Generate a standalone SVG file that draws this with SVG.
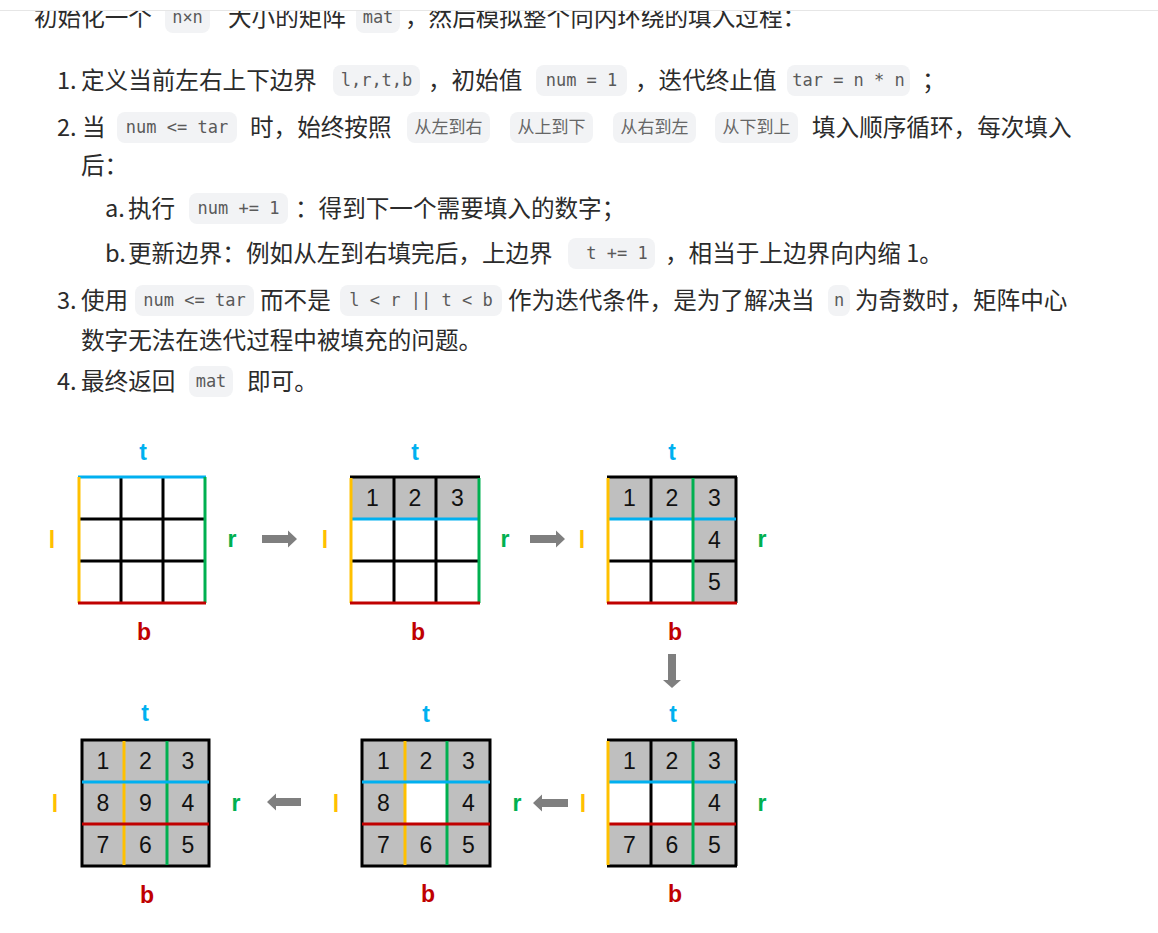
<svg xmlns="http://www.w3.org/2000/svg" width="1158" height="933" viewBox="0 0 1158 933">
<style>
.tx{font-family:"Noto Sans CJK SC","Noto Sans",sans-serif;font-size:23.6px;fill:#2b2b2b}
.cd{font-family:"DejaVu Sans Mono","Noto Sans CJK SC",monospace;font-size:17px;fill:#5a5a5a;text-anchor:middle}
.cdz{font-family:"Noto Sans CJK SC",sans-serif;font-size:17px;fill:#666;text-anchor:middle}
.chip{fill:#f2f3f5}
.gray{fill:#bfbfbf}
.wh{fill:#fff}
.bk{stroke:#000;stroke-width:3;fill:none}
.bl{stroke:#00b0f0;stroke-width:3}
.ye{stroke:#ffc000;stroke-width:3}
.gr{stroke:#00b050;stroke-width:3}
.rd{stroke:#c00000;stroke-width:3}
.num{font-family:"Liberation Sans",Arial,sans-serif;font-size:23px;fill:#111;text-anchor:middle}
.lb{font-family:"Liberation Sans",Arial,sans-serif;font-weight:bold;font-size:23px;text-anchor:middle}
.lt{fill:#00b0f0}.ll{fill:#ffc000}.lr{fill:#00b050}.lbb{fill:#c00000}
.arr{fill:#7f7f7f}
</style>
<rect x="0" y="0" width="1158" height="933" fill="#fff"/>

<g id="text">
  <rect class="chip" x="165" y="2" width="45" height="31" rx="8"/>
  <rect class="chip" x="356" y="2" width="44" height="31" rx="8"/>
  <text class="tx" x="34" y="26">初始化一个</text>
  <text class="cd" x="187.5" y="23">n×n</text>
  <text class="tx" x="228" y="26">大小的矩阵</text>
  <text class="cd" x="378" y="23">mat</text>
  <text class="tx" x="405" y="26">，然后模拟整个向内环绕的填入过程：</text>
  <rect x="0" y="0" width="1158" height="10" fill="#fff"/>
  <line x1="0" y1="10.5" x2="1158" y2="10.5" stroke="#e6e6e6" stroke-width="1"/>

  <rect class="chip" x="333" y="65" width="87" height="31" rx="8"/>
  <rect class="chip" x="536" y="65" width="91" height="31" rx="8"/>
  <rect class="chip" x="787" y="65" width="123" height="31" rx="8"/>
  <text class="tx" x="57" y="89">1.</text>
  <text class="tx" x="81" y="89">定义当前左右上下边界</text>
  <text class="cd" x="376.5" y="86">l,r,t,b</text>
  <text class="tx" x="428" y="89">，初始值</text>
  <text class="cd" x="581.5" y="86">num = 1</text>
  <text class="tx" x="635" y="89">，迭代终止值</text>
  <text class="cd" x="848.5" y="86">tar = n * n</text>
  <text class="tx" x="922" y="89">；</text>

  <rect class="chip" x="117" y="112" width="120" height="31" rx="8"/>
  <rect class="chip" x="407" y="112" width="83" height="31" rx="8"/>
  <rect class="chip" x="510" y="112" width="83" height="31" rx="8"/>
  <rect class="chip" x="613" y="112" width="83" height="31" rx="8"/>
  <rect class="chip" x="715" y="112" width="83" height="31" rx="8"/>
  <text class="tx" x="57" y="136">2.</text>
  <text class="tx" x="82" y="136">当</text>
  <text class="cd" x="177" y="133">num &lt;= tar</text>
  <text class="tx" x="250" y="136">时，始终按照</text>
  <text class="cdz" x="448.5" y="133">从左到右</text>
  <text class="cdz" x="551.5" y="133">从上到下</text>
  <text class="cdz" x="654.5" y="133">从右到左</text>
  <text class="cdz" x="756.5" y="133">从下到上</text>
  <text class="tx" x="812" y="136">填入顺序循环，每次填入</text>
  <text class="tx" x="81" y="174">后：</text>

  <rect class="chip" x="189" y="193" width="99" height="31" rx="8"/>
  <text class="tx" x="105" y="217">a.</text>
  <text class="tx" x="128" y="217">执行</text>
  <text class="cd" x="238.5" y="214">num += 1</text>
  <text class="tx" x="295" y="217">：得到下一个需要填入的数字；</text>

  <rect class="chip" x="568" y="238" width="87" height="31" rx="8"/>
  <text class="tx" x="105" y="262">b.</text>
  <text class="tx" x="128" y="262">更新边界：例如从左到右填完后，上边界</text>
  <text class="cd" x="617" y="259">t += 1</text>
  <text class="tx" x="665" y="262">，相当于上边界向内缩 1。</text>

  <rect class="chip" x="135" y="285" width="119" height="31" rx="8"/>
  <rect class="chip" x="340" y="285" width="162" height="31" rx="8"/>
  <rect class="chip" x="828" y="285" width="22" height="31" rx="8"/>
  <text class="tx" x="57" y="309">3.</text>
  <text class="tx" x="81" y="309">使用</text>
  <text class="cd" x="194.5" y="306">num &lt;= tar</text>
  <text class="tx" x="260" y="309">而不是</text>
  <text class="cd" x="421" y="306">l &lt; r || t &lt; b</text>
  <text class="tx" x="508" y="309">作为迭代条件，是为了解决当</text>
  <text class="cd" x="839" y="306">n</text>
  <text class="tx" x="855" y="309">为奇数时，矩阵中心</text>
  <text class="tx" x="81" y="349">数字无法在迭代过程中被填充的问题。</text>

  <rect class="chip" x="189" y="366" width="44" height="31" rx="8"/>
  <text class="tx" x="57" y="390">4.</text>
  <text class="tx" x="81" y="390">最终返回</text>
  <text class="cd" x="211" y="387">mat</text>
  <text class="tx" x="247" y="390">即可。</text>
</g>

<g id="grid1">
  <line class="bk" x1="121" y1="477" x2="121" y2="603"/>
  <line class="bk" x1="163" y1="477" x2="163" y2="603"/>
  <line class="bk" x1="79" y1="519" x2="205" y2="519"/>
  <line class="bk" x1="79" y1="561" x2="205" y2="561"/>
  <line class="bl" x1="78" y1="477" x2="206" y2="477"/>
  <line class="ye" x1="79" y1="477" x2="79" y2="603"/>
  <line class="gr" x1="205" y1="477" x2="205" y2="603"/>
  <line class="rd" x1="78" y1="603" x2="206" y2="603"/>
  <text class="lb lt" x="143" y="460">t</text>
  <text class="lb lbb" x="144" y="640">b</text>
  <text class="lb ll" x="52" y="548">l</text>
  <text class="lb lr" x="232" y="547">r</text>
</g>

<g id="grid2">
  <rect class="gray" x="351" y="477" width="128" height="42"/>
  <line class="bk" x1="350" y1="477" x2="480" y2="477"/>
  <line class="bk" x1="394" y1="477" x2="394" y2="603"/>
  <line class="bk" x1="436" y1="477" x2="436" y2="603"/>
  <line class="bk" x1="351" y1="561" x2="479" y2="561"/>
  <line class="bl" x1="351" y1="519" x2="479" y2="519"/>
  <line class="ye" x1="351" y1="478" x2="351" y2="603"/>
  <line class="gr" x1="479" y1="478" x2="479" y2="603"/>
  <line class="rd" x1="350" y1="603" x2="480" y2="603"/>
  <text class="num" x="372.5" y="506">1</text>
  <text class="num" x="415" y="506">2</text>
  <text class="num" x="457.5" y="506">3</text>
  <text class="lb lt" x="415" y="460">t</text>
  <text class="lb lbb" x="418" y="640">b</text>
  <text class="lb ll" x="325" y="548">l</text>
  <text class="lb lr" x="505" y="547">r</text>
</g>

<g id="grid3">
  <rect class="gray" x="608" y="477" width="128" height="42"/>
  <rect class="gray" x="693" y="519" width="43" height="84"/>
  <line class="bk" x1="607" y1="477" x2="737" y2="477"/>
  <line class="bk" x1="736" y1="477" x2="736" y2="603"/>
  <line class="bk" x1="651" y1="477" x2="651" y2="603"/>
  <line class="bk" x1="608" y1="561" x2="736" y2="561"/>
  <line class="bl" x1="608" y1="519" x2="736" y2="519"/>
  <line class="gr" x1="693" y1="478" x2="693" y2="603"/>
  <line class="ye" x1="608" y1="478" x2="608" y2="603"/>
  <line class="rd" x1="607" y1="603" x2="737" y2="603"/>
  <text class="num" x="629.5" y="506">1</text>
  <text class="num" x="672" y="506">2</text>
  <text class="num" x="714.5" y="506">3</text>
  <text class="num" x="714.5" y="548">4</text>
  <text class="num" x="714.5" y="590">5</text>
  <text class="lb lt" x="672" y="460">t</text>
  <text class="lb lbb" x="675" y="640">b</text>
  <text class="lb ll" x="582" y="548">l</text>
  <text class="lb lr" x="762" y="547">r</text>
</g>

<g id="grid4">
  <rect class="gray" x="608" y="740" width="128" height="42"/>
  <rect class="gray" x="693" y="782" width="43" height="42"/>
  <rect class="gray" x="608" y="824" width="128" height="42"/>
  <line class="bk" x1="607" y1="740" x2="737" y2="740"/>
  <line class="bk" x1="607" y1="866" x2="737" y2="866"/>
  <line class="bk" x1="736" y1="740" x2="736" y2="866"/>
  <line class="bk" x1="651" y1="740" x2="651" y2="866"/>
  <line class="bl" x1="608" y1="782" x2="736" y2="782"/>
  <line class="rd" x1="608" y1="824" x2="736" y2="824"/>
  <line class="gr" x1="693" y1="741" x2="693" y2="865"/>
  <line class="ye" x1="608" y1="741" x2="608" y2="865"/>
  <text class="num" x="629.5" y="769">1</text>
  <text class="num" x="672" y="769">2</text>
  <text class="num" x="714.5" y="769">3</text>
  <text class="num" x="714.5" y="811">4</text>
  <text class="num" x="629.5" y="853">7</text>
  <text class="num" x="672" y="853">6</text>
  <text class="num" x="714.5" y="853">5</text>
  <text class="lb lt" x="673" y="722">t</text>
  <text class="lb lbb" x="675" y="902">b</text>
  <text class="lb ll" x="583" y="812">l</text>
  <text class="lb lr" x="762" y="811">r</text>
</g>

<g id="grid5">
  <rect class="gray" x="362" y="740" width="128" height="126"/>
  <rect class="wh" x="405" y="782" width="42" height="42"/>
  <rect class="bk" x="362" y="740" width="128" height="126"/>
  <line class="ye" x1="405" y1="741" x2="405" y2="865"/>
  <line class="gr" x1="447" y1="741" x2="447" y2="865"/>
  <line class="bl" x1="362" y1="782" x2="490" y2="782"/>
  <line class="rd" x1="362" y1="824" x2="490" y2="824"/>
  <text class="num" x="383.5" y="769">1</text>
  <text class="num" x="426" y="769">2</text>
  <text class="num" x="468.5" y="769">3</text>
  <text class="num" x="383.5" y="811">8</text>
  <text class="num" x="468.5" y="811">4</text>
  <text class="num" x="383.5" y="853">7</text>
  <text class="num" x="426" y="853">6</text>
  <text class="num" x="468.5" y="853">5</text>
  <text class="lb lt" x="426" y="722">t</text>
  <text class="lb lbb" x="428" y="902">b</text>
  <text class="lb ll" x="336" y="812">l</text>
  <text class="lb lr" x="517" y="811">r</text>
</g>

<g id="grid6">
  <rect class="gray" x="82" y="740" width="127" height="126"/>
  <rect class="bk" x="82" y="740" width="127" height="126"/>
  <line class="ye" x1="124" y1="741" x2="124" y2="865"/>
  <line class="gr" x1="167" y1="741" x2="167" y2="865"/>
  <line class="bl" x1="82" y1="782" x2="209" y2="782"/>
  <line class="rd" x1="82" y1="824" x2="209" y2="824"/>
  <text class="num" x="103" y="769">1</text>
  <text class="num" x="145.5" y="769">2</text>
  <text class="num" x="188" y="769">3</text>
  <text class="num" x="103" y="811">8</text>
  <text class="num" x="145.5" y="811">9</text>
  <text class="num" x="188" y="811">4</text>
  <text class="num" x="103" y="853">7</text>
  <text class="num" x="145.5" y="853">6</text>
  <text class="num" x="188" y="853">5</text>
  <text class="lb lt" x="145" y="721">t</text>
  <text class="lb lbb" x="147" y="903">b</text>
  <text class="lb ll" x="55" y="812">l</text>
  <text class="lb lr" x="236" y="811">r</text>
</g>

<g id="connectors">
  <polygon class="arr" points="262,535 288,535 288,530.5 297,539 288,547.5 288,543 262,543"/>
  <polygon class="arr" points="530,535 556,535 556,530.5 565,539 556,547.5 556,543 530,543"/>
  <polygon class="arr" points="668,654 676,654 676,680 681,680 672,688 663,680 668,680"/>
  <polygon class="arr" points="568,799 542,799 542,794.5 533,803 542,811.5 542,807 568,807"/>
  <polygon class="arr" points="301,798 276,798 276,793.5 267,802 276,810.5 276,806 301,806"/>
</g>
</svg>
